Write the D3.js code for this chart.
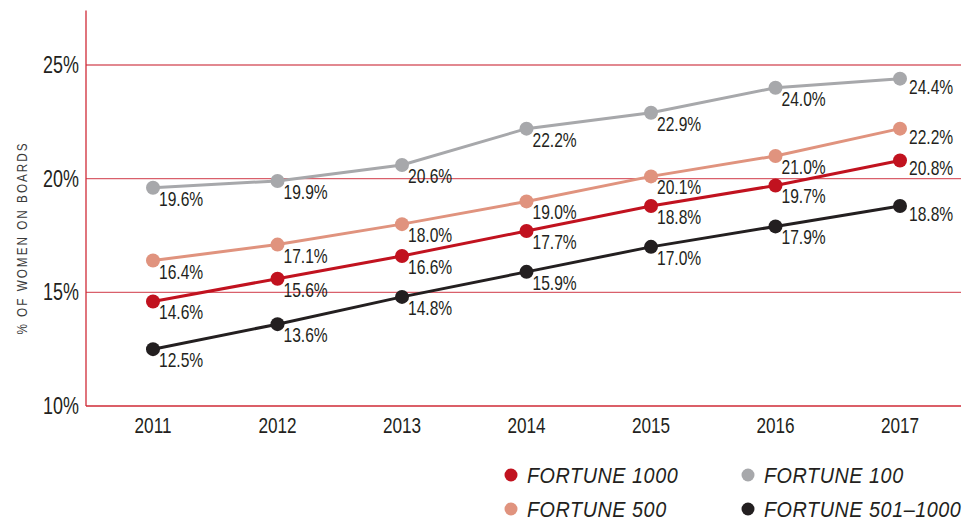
<!DOCTYPE html>
<html>

<head>
  <meta charset="utf-8">
  <title>Women on Boards</title>
  <style>
    body { margin: 0; background: #fff; }
    text { font-family: "Liberation Sans", Arial, sans-serif; fill: #231f20; }
  </style>
</head>

<body>
  <svg width="974" height="521"></svg>
  <script src="https://d3js.org/d3.v7.min.js"></script>
  <script>
    var years = [2011, 2012, 2013, 2014, 2015, 2016, 2017];
    var yTicks = [10, 15, 20, 25];

    var fortune100 = [19.6, 19.9, 20.6, 22.2, 22.9, 24.0, 24.4];
    var fortune500 = [16.4, 17.1, 18.0, 19.0, 20.1, 21.0, 22.2];
    var fortune1000 = [14.6, 15.6, 16.6, 17.7, 18.8, 19.7, 20.8];
    var fortune5011000 = [12.5, 13.6, 14.8, 15.9, 17.0, 17.9, 18.8];

    var seriesNames = ["FORTUNE 100", "FORTUNE 500", "FORTUNE 1000", "FORTUNE 501\u20131000"];
    var seriesColors = ["#a7a8ab", "#e0937e", "#c1121f", "#231f20"];
    var seriesValues = [fortune100, fortune500, fortune1000, fortune5011000];

    var svg = d3.select("svg");
    var xScale = d3.scaleLinear().domain([2011, 2017]).range([153, 900]);
    var yScale = d3.scaleLinear().domain([10, 25]).range([406, 65]);
    var left = 86, right = 961;
    var narrow = 0.78; // squeeze Liberation Sans to look like a condensed face

    // gridlines
    svg.selectAll(".grid")
      .data(yTicks)
      .enter()
      .append("line")
      .attr("x1", left)
      .attr("x2", right)
      .attr("y1", d => yScale(d))
      .attr("y2", d => yScale(d))
      .attr("stroke", d => d == 10 ? "#cf2a36" : "#d9606b")
      .attr("stroke-width", 1.3);

    // y axis line
    svg.append("line")
      .attr("x1", left).attr("x2", left)
      .attr("y1", yScale(27.4)).attr("y2", yScale(10))
      .attr("stroke", "#cf2a36")
      .attr("stroke-width", 1.3);

    // y tick labels
    svg.selectAll(".ytick")
      .data(yTicks)
      .enter()
      .append("text")
      .attr("transform", d => "translate(79," + (yScale(d) + 8) + ") scale(" + narrow + ",1)")
      .attr("text-anchor", "end")
      .style("font-size", "23px")
      .text(d => d + "%");

    // x tick labels
    svg.selectAll(".xtick")
      .data(years)
      .enter()
      .append("text")
      .attr("transform", d => "translate(" + xScale(d) + ",433) scale(" + narrow + ",1)")
      .attr("text-anchor", "middle")
      .style("font-size", "22px")
      .text(d => d);

    // y title
    svg.append("text")
      .attr("transform", "translate(27,238) rotate(-90) scale(" + narrow + ",1)")
      .attr("text-anchor", "middle")
      .style("font-size", "15px")
      .style("letter-spacing", "2.6px")
      .style("fill", "#3a3a3a")
      .text("% OF WOMEN ON BOARDS");

    var line = d3.line()
      .x((d, i) => xScale(years[i]))
      .y(d => yScale(d));

    seriesValues.forEach((vals, k) => {
      svg.append("path")
        .attr("d", line(vals))
        .attr("fill", "none")
        .attr("stroke", seriesColors[k])
        .attr("stroke-width", 3);

      svg.selectAll(".pt" + k)
        .data(vals)
        .enter()
        .append("circle")
        .attr("cx", (d, i) => xScale(years[i]))
        .attr("cy", d => yScale(d))
        .attr("r", 7)
        .attr("fill", seriesColors[k]);

      svg.selectAll(".lbl" + k)
        .data(vals)
        .enter()
        .append("text")
        .attr("transform", (d, i) => {
          var tx = xScale(years[i]) + (i == 6 ? 9 : 6);
          var ty = yScale(d) + (i == 6 ? 15 : 18);
          return "translate(" + tx + "," + ty + ") scale(" + narrow + ",1)";
        })
        .style("font-size", "20px")
        .text(d => d.toFixed(1) + "%");
    });

    // legend
    var legendOrder = [2, 0, 1, 3];
    var legendX = [511, 748];
    var legendY = [475, 509];
    legendOrder.forEach((k, j) => {
      var lx = legendX[j % 2], ly = legendY[Math.floor(j / 2)];
      svg.append("circle")
        .attr("cx", lx)
        .attr("cy", ly)
        .attr("r", 6.5)
        .attr("fill", seriesColors[k]);
      svg.append("text")
        .attr("transform", "translate(" + (lx + 16) + "," + (ly + 8) + ") scale(0.9,1)")
        .style("font-size", "22px")
        .style("font-style", "italic")
        .style("letter-spacing", "0.6px")
        .text(seriesNames[k]);
    });
  </script>

</body>

</html>
